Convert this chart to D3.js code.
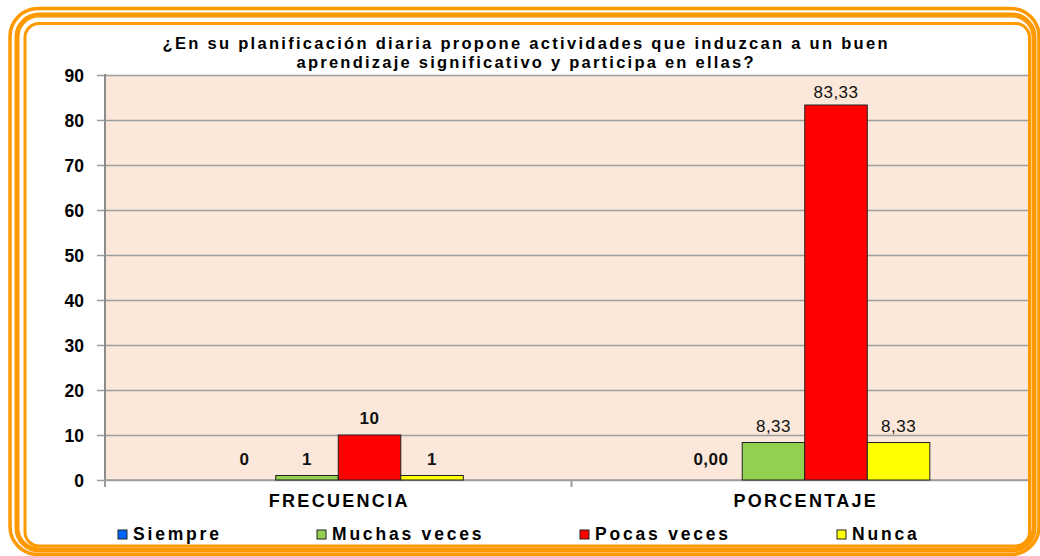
<!DOCTYPE html>
<html>
<head>
<meta charset="utf-8">
<script src="https://cdn.jsdelivr.net/npm/d3@7"></script>
<style>
  body { margin: 0; background: #ffffff; }
  svg { display: block; font-family: "Liberation Sans", Arial, sans-serif; }
</style>
</head>
<body>
<div id="chart"></div>
<script>
var categories = ["FRECUENCIA", "PORCENTAJE"];
var series = ["Siempre", "Muchas veces", "Pocas veces", "Nunca"];
var frecuencia = [0, 1, 10, 1];
var porcentaje = [0, 8.33, 83.33, 8.33];
var frecuenciaLabels = ["0", "1", "10", "1"];
var porcentajeLabels = ["0,00", "8,33", "83,33", "8,33"];
var yTicks = [0, 10, 20, 30, 40, 50, 60, 70, 80, 90];
var titleLines = ["¿En su planificación diaria propone actividades que induzcan a un buen",
                  "aprendizaje significativo  y participa en ellas?"];

var colors = ["#0066FF", "#92D050", "#FF0000", "#FFFF00"];

var width = 1040, height = 556;
var plot = {left: 105, right: 1038, top: 75, bottom: 480, clipRight: 1028};

var svg = d3.select("#chart")
  .append("svg")
    .attr("width", width)
    .attr("height", height);

var rows = [];
categories.forEach(function (c, ci) {
  var vals = ci == 0 ? frecuencia : porcentaje;
  var labs = ci == 0 ? frecuenciaLabels : porcentajeLabels;
  series.forEach(function (s, si) {
    rows.push({cat: c, series: s, value: vals[si], label: labs[si], idx: si, pct: ci == 1});
  });
});

var x0 = d3.scaleBand()
  .domain(categories)
  .range([plot.left, plot.right]);

var x1 = d3.scaleBand()
  .domain(series)
  .range([0, x0.bandwidth()])
  .paddingOuter(1.73);

var y = d3.scaleLinear()
  .domain([0, 90])
  .range([plot.bottom, plot.top]);

// plot area
svg.append("rect")
  .attr("x", plot.left)
  .attr("y", plot.top)
  .attr("width", plot.clipRight - plot.left)
  .attr("height", plot.bottom - plot.top)
  .attr("fill", "#FCE8DA");

// gridlines + left axis
var yAxis = svg.append("g")
  .attr("transform", "translate(" + plot.left + ",0)")
  .call(d3.axisLeft(y)
    .tickValues(yTicks)
    .tickSize(-(plot.clipRight - plot.left))
    .tickPadding(21));

yAxis.select(".domain").remove();
yAxis.selectAll(".tick line")
  .attr("x2", plot.clipRight - plot.left)
  .attr("x1", -8)
  .attr("stroke", "#9c9c9c")
  .attr("stroke-width", 1.5);
yAxis.selectAll(".tick text")
  .attr("fill", "#000")
  .attr("font-size", "17.5px")
  .attr("font-weight", "bold")
  .attr("dy", "0.36em");

svg.append("line")
  .attr("x1", plot.left).attr("x2", plot.left)
  .attr("y1", plot.top - 1).attr("y2", plot.bottom + 3)
  .attr("stroke", "#8c8c8c")
  .attr("stroke-width", 2);

// x axis
var xAxis = svg.append("g")
  .attr("transform", "translate(0," + plot.bottom + ")");

xAxis.append("line")
  .attr("x1", plot.left).attr("x2", plot.clipRight)
  .attr("stroke", "#9c9c9c")
  .attr("stroke-width", 1.5);

xAxis.selectAll(".xtick")
  .data(categories)
  .enter()
  .append("line")
  .attr("x1", function (d) { return x0(d); })
  .attr("x2", function (d) { return x0(d); })
  .attr("y1", 0).attr("y2", 7)
  .attr("stroke", "#9c9c9c")
  .attr("stroke-width", 2);

xAxis.selectAll(".xlabel")
  .data(categories)
  .enter()
  .append("text")
  .attr("x", function (d) { return x0(d) + x0.bandwidth() / 2 + 1; })
  .attr("y", 27)
  .attr("text-anchor", "middle")
  .attr("font-size", "18px")
  .attr("font-weight", "bold")
  .attr("letter-spacing", "2.3px")
  .text(function (d) { return d; });

// bars
svg.selectAll(".bar")
  .data(rows.filter(function (d) { return d.value > 0; }))
  .enter()
  .append("rect")
  .attr("class", "bar")
  .attr("x", function (d) { return x0(d.cat) + x1(d.series); })
  .attr("y", function (d) { return y(d.value); })
  .attr("width", x1.bandwidth())
  .attr("height", function (d) { return plot.bottom - y(d.value); })
  .attr("fill", function (d) { return colors[d.idx]; })
  .attr("stroke", "#222")
  .attr("stroke-width", 1);

// value labels
svg.selectAll(".vlabel")
  .data(rows)
  .enter()
  .append("text")
  .attr("x", function (d) { return x0(d.cat) + x1(d.series) + x1.bandwidth() / 2; })
  .attr("y", function (d) { return y(Math.max(d.value, 1)) - (d.value > 50 ? 7 : 11); })
  .attr("text-anchor", "middle")
  .attr("font-size", "17px")
  .attr("font-weight", function (d) { return d.pct && d.value > 0 ? "normal" : "bold"; })
  .attr("letter-spacing", "0.5px")
  .attr("fill", "#111")
  .text(function (d) { return d.label; });

// title
svg.selectAll(".title")
  .data(titleLines)
  .enter()
  .append("text")
  .attr("x", 525)
  .attr("y", function (d, i) { return 49 + i * 19; })
  .attr("text-anchor", "middle")
  .attr("font-size", "16.5px")
  .attr("font-weight", "bold")
  .attr("textLength", function (d, i) { return i == 0 ? 725 : 457; })
  .attr("lengthAdjust", "spacing")
  .text(function (d) { return d; });

// legend
var legendX = [118, 317, 580, 837];
var legend = svg.selectAll(".legend")
  .data(series)
  .enter()
  .append("g")
  .attr("transform", function (d, i) { return "translate(" + legendX[i] + ",530)"; });

legend.append("rect")
  .attr("width", 9).attr("height", 9)
  .attr("fill", function (d, i) { return colors[i]; })
  .attr("stroke", "#222")
  .attr("stroke-width", 1);

legend.append("text")
  .attr("x", 15)
  .attr("y", 10)
  .attr("font-size", "17.5px")
  .attr("font-weight", "bold")
  .attr("letter-spacing", "2.8px")
  .text(function (d) { return d; });

// orange double frame
var frames = [
  {x1: 10, y1: 8.5, x2: 1039, y2: 554.5, sw: 3.5, r: 28},
  {x1: 17, y1: 15, x2: 1034, y2: 550, sw: 5, r: 22},
  {x1: 25, y1: 23.5, x2: 1029.5, y2: 546, sw: 3, r: 14}
];
svg.selectAll(".frame")
  .data(frames)
  .enter()
  .append("rect")
  .attr("x", function (d) { return d.x1; })
  .attr("y", function (d) { return d.y1; })
  .attr("width", function (d) { return d.x2 - d.x1; })
  .attr("height", function (d) { return d.y2 - d.y1; })
  .attr("rx", function (d) { return d.r; })
  .attr("fill", "none")
  .attr("stroke", "#FF9900")
  .attr("stroke-width", function (d) { return d.sw; });
</script>
</body>
</html>
